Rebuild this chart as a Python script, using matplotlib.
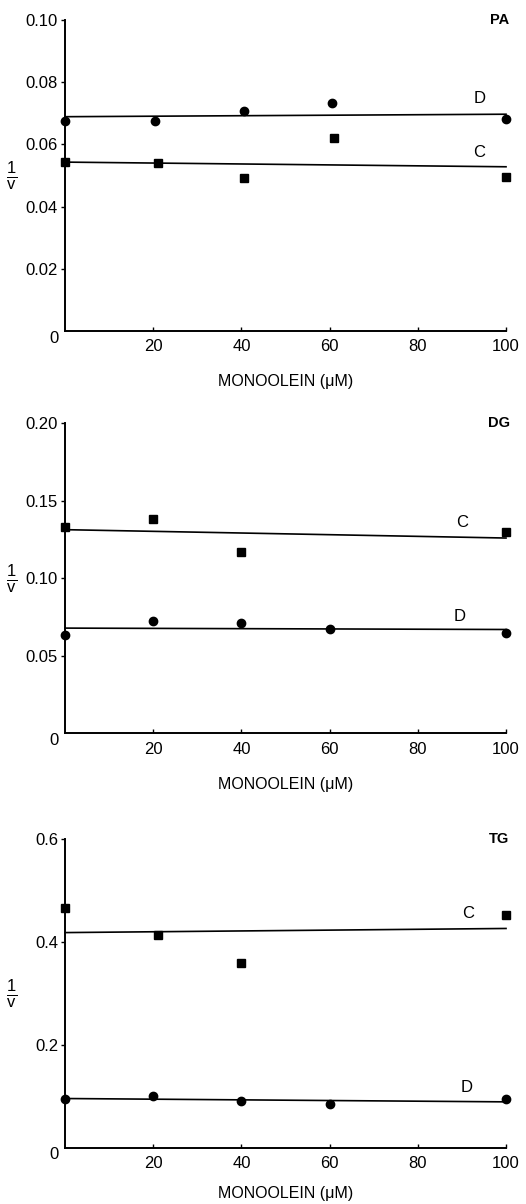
import matplotlib.pyplot as plt

plt.rcParams['font.family'] = ['Liberation Sans', 'DejaVu Sans']
plt.rcParams['mathtext.fontset'] = 'custom'
plt.rcParams['mathtext.rm'] = 'Liberation Sans'
plt.rcParams['mathtext.it'] = 'Liberation Sans'

# monoolein concentrations (uM)
x_pa_d = [0, 20.5, 40.5, 60.5, 100]
y_pa_d = [0.0676, 0.0676, 0.0707, 0.0733, 0.0681]
x_pa_c = [0, 21, 40.5, 61, 100]
y_pa_c = [0.0543, 0.0540, 0.0493, 0.0620, 0.0496]
fit_pa_d = [0.0689, 0.0697]
fit_pa_c = [0.0543, 0.0528]

x_dg_c = [0, 20, 40, 100]
y_dg_c = [0.133, 0.1383, 0.1173, 0.1299]
x_dg_d = [0, 20, 40, 60, 100]
y_dg_d = [0.0634, 0.0722, 0.0710, 0.0671, 0.0647]
fit_dg_c = [0.1314, 0.1260]
fit_dg_d = [0.0679, 0.0670]

x_tg_c = [0, 21, 40, 100]
y_tg_c = [0.466, 0.413, 0.358, 0.452]
x_tg_d = [0, 20, 40, 60, 100]
y_tg_d = [0.095, 0.101, 0.090, 0.084, 0.095]
fit_tg_c = [0.418, 0.426]
fit_tg_d = [0.0955, 0.089]

fit_x = [0, 100]
x_ticks = [20, 40, 60, 80, 100]

panels = [
    dict(pos=[0.1236, 0.7251, 0.8384, 0.2583], ymax=0.10,
         yticks=[0.02, 0.04, 0.06, 0.08, 0.10],
         ylabels=['0.02', '0.04', '0.06', '0.08', '0.10'], name='PA',
         c=(x_pa_c, y_pa_c, fit_pa_c, 94, 0.0574),
         d=(x_pa_d, y_pa_d, fit_pa_d, 94, 0.0749), lpad=14.5),
    dict(pos=[0.1236, 0.3909, 0.8384, 0.2575], ymax=0.20,
         yticks=[0.05, 0.10, 0.15, 0.20],
         ylabels=['0.05', '0.10', '0.15', '0.20'], name='DG',
         c=(x_dg_c, y_dg_c, fit_dg_c, 90, 0.1358),
         d=(x_dg_d, y_dg_d, fit_dg_d, 89.5, 0.0757), lpad=14.5),
    dict(pos=[0.1236, 0.0468, 0.8384, 0.2564], ymax=0.6,
         yticks=[0.2, 0.4, 0.6],
         ylabels=['0.2', '0.4', '0.6'], name='TG',
         c=(x_tg_c, y_tg_c, fit_tg_c, 91.3, 0.455),
         d=(x_tg_d, y_tg_d, fit_tg_d, 91, 0.1165), lpad=11),
]

fig = plt.figure(figsize=(5.26, 12.04), dpi=100)

for p in panels:
    ax = fig.add_axes(p['pos'])
    ax.set_xlim(0, 100)
    ax.set_ylim(0, p['ymax'])
    for s in ['top', 'right']:
        ax.spines[s].set_visible(False)
    for s in ['left', 'bottom']:
        ax.spines[s].set_linewidth(1.4)

    xc, yc, fc, lxc, lyc = p['c']
    xd, yd, fd, lxd, lyd = p['d']
    ax.plot(fit_x, fc, color='black', lw=1.2, clip_on=False)
    ax.plot(fit_x, fd, color='black', lw=1.2, clip_on=False)
    ax.plot(xc, yc, 's', color='black', ms=5.5, linestyle='none', clip_on=False)
    ax.plot(xd, yd, 'o', color='black', ms=6, linestyle='none', clip_on=False)
    ax.text(lxc, lyc, 'C', fontsize=12, ha='center', va='center')
    ax.text(lxd, lyd, 'D', fontsize=12, ha='center', va='center')

    ax.set_xticks(x_ticks)
    ax.set_xticklabels([str(t) for t in x_ticks], fontsize=12)
    ax.set_yticks(p['yticks'])
    ax.set_yticklabels(p['ylabels'], fontsize=12)
    ax.tick_params(axis='x', direction='in', length=3, width=1, pad=6)
    ax.tick_params(axis='y', direction='out', length=3, width=1, pad=2)

    ax.text(-0.025, -0.023, '0', transform=ax.transAxes, fontsize=12,
            ha='center', va='center')
    ax.text(0.985, 1.0, p['name'], transform=ax.transAxes, fontsize=10.5,
            ha='center', va='center', fontweight='bold')
    ax.text(-0.12, 0.5, r'$\frac{1}{v}$', transform=ax.transAxes,
            fontsize=17, ha='center', va='center')
    ax.set_xlabel('MONOOLEIN (\u03bcM)', fontsize=11.5, labelpad=p['lpad'])

fig.savefig('out.png', dpi=100)
